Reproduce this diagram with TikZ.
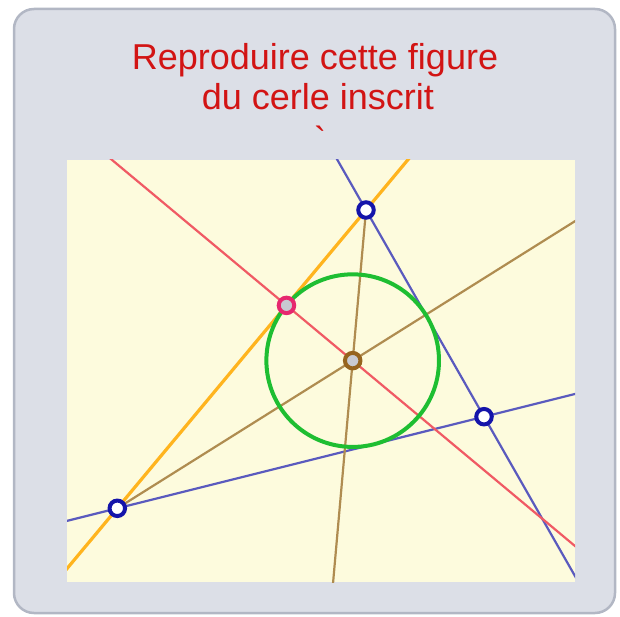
\documentclass[tikz,border=0pt]{standalone}
\usepackage{fontspec}
\setmainfont{Liberation Sans}
\usetikzlibrary{calc}
\definecolor{boxfill}{RGB}{220,223,231}
\definecolor{boxedge}{RGB}{178,183,196}
\definecolor{panelbg}{RGB}{253,251,221}
\definecolor{titlered}{RGB}{210,20,20}
\definecolor{lineblue}{RGB}{90,90,190}
\definecolor{markblue}{RGB}{20,20,170}
\definecolor{linered}{RGB}{240,90,100}
\definecolor{lineyellow}{RGB}{255,180,30}
\definecolor{linegreen}{RGB}{30,190,50}
\definecolor{linebrown}{RGB}{175,140,80}
\definecolor{markbrown}{RGB}{150,100,30}
\definecolor{markpink}{RGB}{230,40,110}
\definecolor{markgrey}{RGB}{200,202,210}
\tikzset{
  boxframe/.style={draw=boxedge, fill=boxfill, line width=2.5pt, rounded corners=20pt},
  titletext/.style={text=titlered, font=\fontsize{36}{40}\selectfont, inner sep=0pt, anchor=base},
  panel/.style={fill=panelbg},
  blueline/.style={draw=lineblue, line width=2.2pt},
  redline/.style={draw=linered, line width=2.2pt},
  yellowline/.style={draw=lineyellow, line width=3.2pt},
  brownline/.style={draw=linebrown, line width=2.2pt},
  greencircle/.style={draw=linegreen, line width=4pt},
  ptbase/.style={circle, inner sep=0pt, minimum size=15.5pt, line width=4pt},
  bluept/.style={ptbase, draw=markblue, fill=white},
  pinkpt/.style={ptbase, draw=markpink, fill=markgrey},
  brownpt/.style={ptbase, draw=markbrown, fill=markgrey},
}
\begin{document}
\begin{tikzpicture}[x=1pt,y=-1pt]
\useasboundingbox (0,0) rectangle (620,617);
\draw[boxframe] (14,9) rectangle (615,613);
\node[titletext] (t1) at (315,69.3) {Reproduire cette figure};
\node[titletext] (t2) at (318,109.3) {du cerle inscrit};
\node[titletext] (t3) at (320,153) {\textasciigrave};
\fill[panel] (67,160) rectangle (575,582);
\coordinate (A) at (366,210);
\coordinate (B) at (117.3,508.3);
\coordinate (C) at (484,416.7);
\coordinate (I) at (barycentric cs:A=0.3763,B=0.2370,C=0.3867);
\coordinate (P) at ($(A)!(I)!(B)$);
\begin{scope}
\clip (67,160) rectangle (575,582);
\draw[blueline] ($(A)!-1!(C)$) -- ($(A)!2!(C)$);
\draw[blueline] ($(B)!-1!(C)$) -- ($(B)!2!(C)$);
\draw[yellowline] ($(B)!-1!(A)$) -- ($(B)!2!(A)$);
\draw[redline] ($(I)!-5!(P)$) -- ($(I)!5!(P)$);
\draw[brownline] (B) -- ($(B)!3!(I)$);
\draw[brownline] (A) -- ($(A)!3!(I)$);
\draw[greencircle] (I) circle[radius=86.3pt];
\end{scope}
\node[bluept] (pA) at (A) {};
\node[bluept] (pB) at (B) {};
\node[bluept] (pC) at (C) {};
\node[pinkpt] (pP) at (P) {};
\node[brownpt] (pI) at (I) {};
\end{tikzpicture}
\end{document}
